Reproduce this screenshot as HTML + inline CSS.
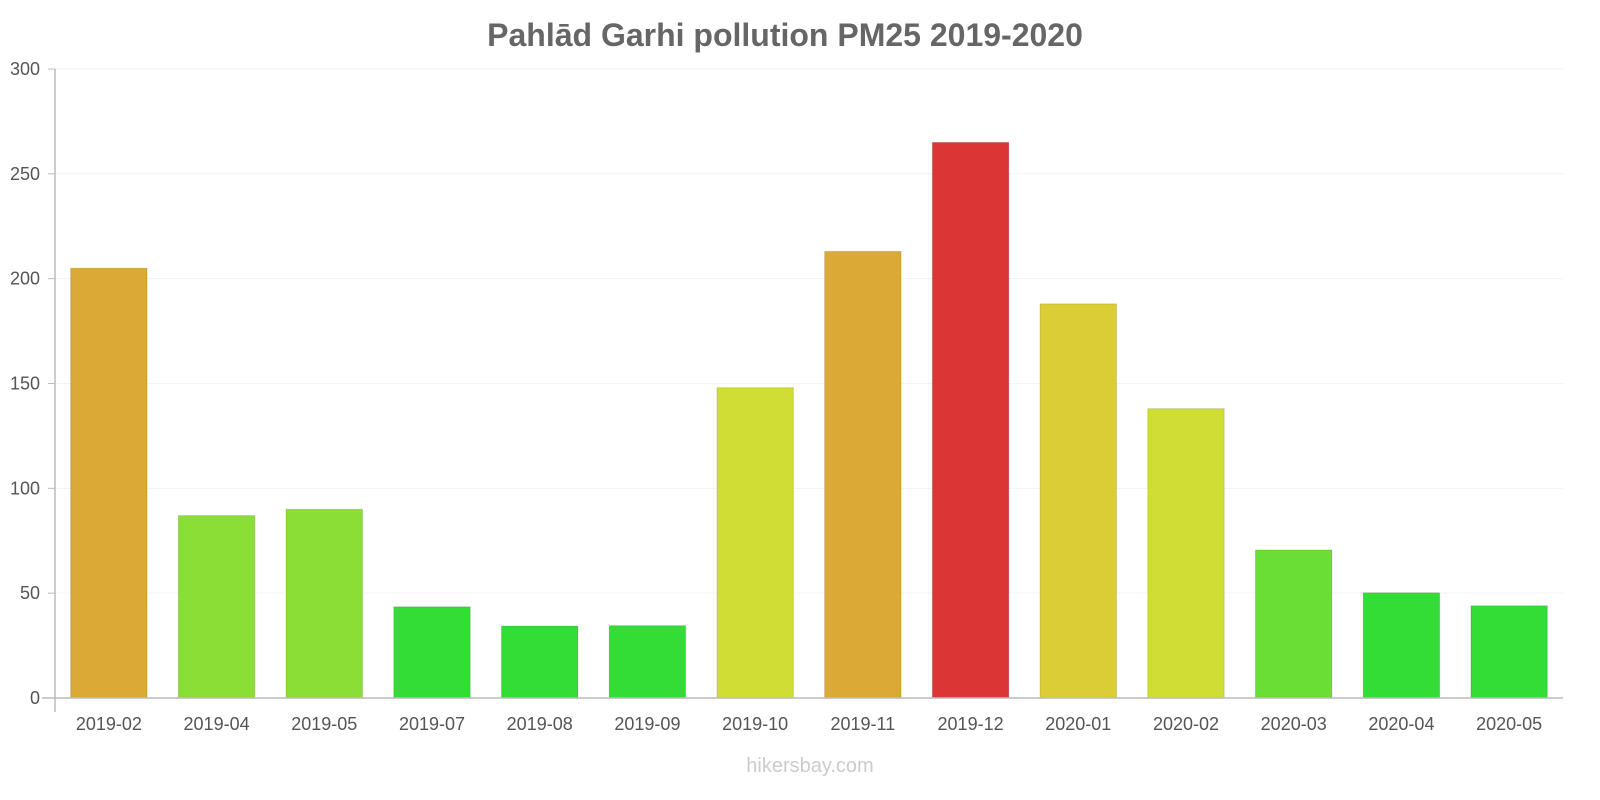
<!DOCTYPE html>
<html>
<head>
<meta charset="utf-8">
<style>
html,body{margin:0;padding:0;background:#fff;}
svg{display:block;font-family:"Liberation Sans",sans-serif;}
</style>
</head>
<body>
<svg id="chart" width="1600" height="800">
  <text x="785" y="46" text-anchor="middle" font-size="32" font-weight="bold" fill="#666">Pahlād Garhi pollution PM25 2019-2020</text>
  <g id="grid"></g>
  <g id="bars"></g>
  <g id="axes"></g>
  <text x="810" y="772" text-anchor="middle" font-size="20" fill="#ccc">hikersbay.com</text>
</svg>
<script>
const categories = ["2019-02","2019-04","2019-05","2019-07","2019-08","2019-09","2019-10","2019-11","2019-12","2020-01","2020-02","2020-03","2020-04","2020-05"];
const values = [205, 87, 90, 43.5, 34.3, 34.5, 148, 213, 265, 188, 138, 70.6, 50.2, 44];
const yTicks = [0, 50, 100, 150, 200, 250, 300];

const NS = "http://www.w3.org/2000/svg";
const pLeft = 55, pRight = 1563, pTop = 69, pBottom = 698, yMax = 300;
const band = (pRight - pLeft) / categories.length;
const yS = v => pBottom - v / yMax * (pBottom - pTop);
const xS = i => pLeft + band * i + band / 2;
function color(v){
  if (v < 60) return "#33dd35";
  if (v < 80) return "#6ade35";
  if (v < 120) return "#8ade35";
  if (v < 170) return "#cfdd35";
  if (v < 200) return "#dbcd35";
  if (v < 240) return "#dba935";
  return "#db3535";
}
function mk(tag, attrs, parent){
  const e = document.createElementNS(NS, tag);
  for (const k in attrs) e.setAttribute(k, attrs[k]);
  parent.appendChild(e);
  return e;
}
const gridG = document.getElementById("grid");
const barsG = document.getElementById("bars");
const axesG = document.getElementById("axes");

yTicks.forEach(t => {
  if (t > 0) {
    const g = mk("line", {x1:pLeft, x2:pRight, y1:yS(t), y2:yS(t), stroke:"#f3f3f3", "stroke-width":1}, gridG);
    
    
  }
  const tk = mk("line", {x1:pLeft-7, x2:pLeft, y1:yS(t), y2:yS(t), stroke:"#bbb", "stroke-width":1}, axesG);
  
  
  const lb = mk("text", {x:pLeft-15, y:yS(t)+6, "text-anchor":"end", "font-size":18, fill:"#555"}, axesG);
  lb.textContent = t;
  
  
});

categories.forEach((c, i) => {
  const w = band * 0.71;
  const r = mk("rect", {x:xS(i)-w/2, y:yS(values[i]), width:w, height:pBottom-yS(values[i]), fill:color(values[i]), stroke:"rgba(0,0,0,0.12)", "stroke-width":1}, barsG);
  
  
  const lb = mk("text", {x:xS(i), y:730, "text-anchor":"middle", "font-size":18, fill:"#555"}, axesG);
  lb.textContent = c;
  
  
});

const ya = mk("line", {x1:pLeft, x2:pLeft, y1:pTop, y2:712, stroke:"#bbb", "stroke-width":1.5}, axesG);


const xa = mk("line", {x1:42, x2:pRight, y1:pBottom, y2:pBottom, stroke:"#bbb", "stroke-width":1.5}, axesG);


</script>
</body>
</html>
